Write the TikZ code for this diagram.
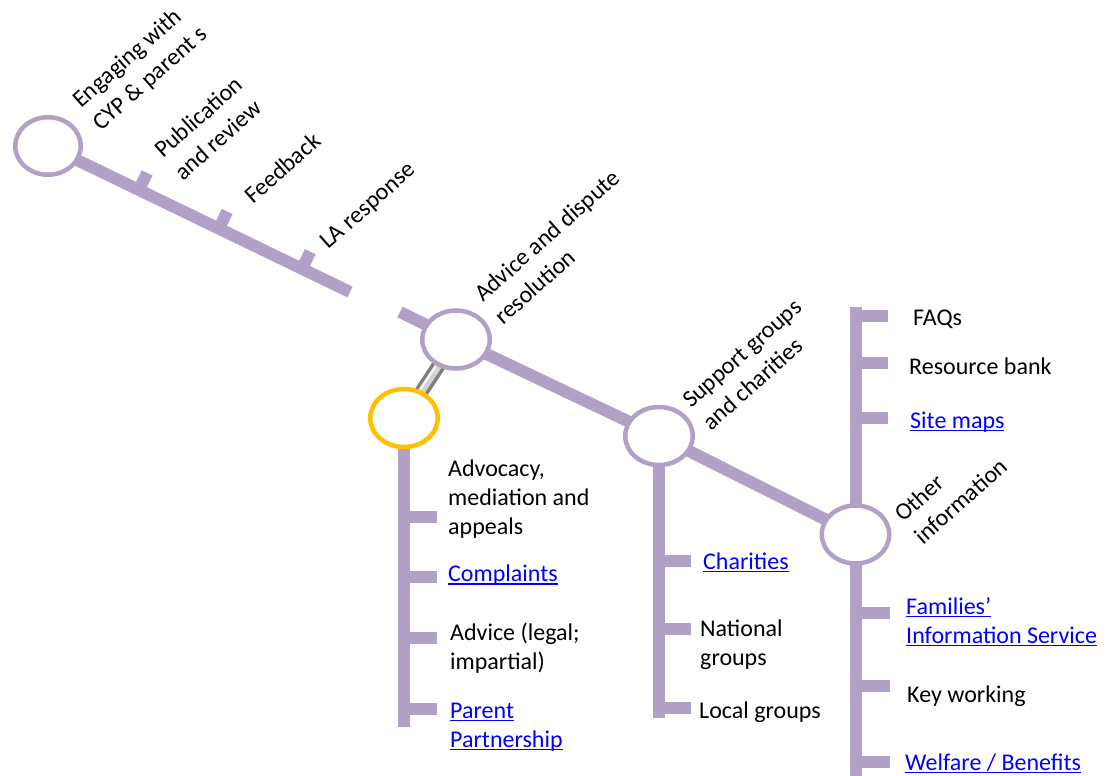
\documentclass[tikz,border=0pt]{standalone}
\usepackage{fontspec}
\setmainfont{Carlito}
\usetikzlibrary{calc,shapes.geometric,backgrounds}
\definecolor{lav}{HTML}{B2A1C7}
\definecolor{gold}{HTML}{FFC000}
\definecolor{linkblue}{HTML}{0000FF}
\definecolor{connedge}{HTML}{7F7F7F}
\newcommand\mlab[1]{\begin{tabular}[t]{@{}l@{}}#1\end{tabular}}
\newcommand\lnk[1]{{\color{linkblue}\setbox0=\hbox{#1}\rlap{\rule[-3pt]{\wd0}{1.3pt}}\box0}}
\begin{document}
\begin{tikzpicture}[x=1pt,y=1pt,
  rail/.style={draw=lav, line width=12pt},
  station/.style={ellipse, draw=lav, line width=4.5pt, fill=white,
    minimum width=67.5pt, minimum height=58pt, inner sep=0pt},
  hub/.style={station, draw=gold},
  lbl/.style={anchor=base west, inner sep=0pt, font=\fontsize{24}{29}\selectfont},
  rlbl/.style={anchor=base west, inner sep=0pt, font=\fontsize{24}{30}\selectfont, rotate=41.5}]
\useasboundingbox (0,0) rectangle (1112,-776);

% stations
\node[station, minimum width=65.5pt, minimum height=57.5pt] (c1) at (48,-146) {};
\node[station] (c2) at (456,-339.5) {};
\node[station] (c3) at (659,-436) {};
\node[station] (c4) at (855.5,-534.5) {};
\node[hub] (cy) at (404,-418) {};

\coordinate (e1) at (350,-292);
\coordinate (s2) at (400,-312);

\begin{scope}[on background layer]
  % diagonal lines
  \draw[rail] (c1.center) -- (e1);
  \foreach \t in {0.301,0.566,0.841}
    \draw[rail] ($(c1.center)!\t!(e1)$) -- ($(c1.center)!\t!(e1)!19pt!90:(e1)$);
  \draw[rail] (s2) -- (c2.center) -- (c3.center) -- (c4.center);
  % connector between c2 and yellow hub
  \draw[connedge, line width=14pt] (c2.center) -- (cy.center);
  \draw[gray!35, line width=7pt] (c2.center) -- (cy.center);
  \draw[gray!10, line width=2.5pt] ($(c2.center)+(-2,1)$) -- ($(cy.center)+(-2,1)$);
  % vertical under yellow hub
  \draw[rail] (cy.center) -- (cy.center |- 0,-727);
  \foreach \y in {517,577,638,709}
    \draw[rail] (cy.center |- 0,-\y) -- (437,-\y);
  % vertical under c3
  \draw[rail] (c3.center) -- (c3.center |- 0,-718);
  \foreach \y in {561,629,708}
    \draw[rail] (c3.center |- 0,-\y) -- (691,-\y);
  % vertical through c4
  \draw[rail] (c4.center |- 0,-307) -- (c4.center |- 0,-790);
  \foreach \y in {316,363,418}
    \draw[rail] (c4.center |- 0,-\y) -- (888,-\y);
  \foreach \y in {613,686,762}
    \draw[rail] (c4.center |- 0,-\y) -- (890,-\y);
\end{scope}

% rotated labels
\node[rlbl] (l1) at (81,-109) {\mlab{Engaging with\\CYP \& parent s}};
\node[rlbl] (l2) at (163,-159) {\mlab{Publication\\and review}};
\node[rlbl] (l3) at (253,-205) {Feedback};
\node[rlbl] (l4) at (328,-250) {LA response};
\node[rlbl] (l5) at (483,-303) {\mlab{Advice and dispute\\resolution}};
\node[rlbl] (l6) at (691,-409) {\mlab{Support groups\\and charities}};
\node[rlbl] (l7) at (903,-523) {\mlab{Other\\information}};

% horizontal labels
\node[lbl] (a1) at (448,-476) {\mlab{Advocacy,\\mediation and\\appeals}};
\node[lbl] (a2) at (448,-581.5) {\lnk{Complaints}};
\node[lbl] (a3) at (450,-640) {\mlab{Advice (legal;\\impartial)}};
\node[lbl] (a4) at (450,-718) {\mlab{\lnk{Parent}\\\lnk{Partnership}}};

\node[lbl] (b1) at (703,-569) {\lnk{Charities}};
\node[lbl] (b2) at (700,-636) {\mlab{National\\groups}};
\node[lbl] (b3) at (699,-718) {Local groups};

\node[lbl] (d1) at (913,-325) {FAQs};
\node[lbl] (d2) at (909,-374) {Resource bank};
\node[lbl] (d3) at (910,-428) {\lnk{Site maps}};
\node[lbl] (d4) at (906,-614) {\mlab{\lnk{Families’}\\\lnk{Information Service}}};
\node[lbl] (d5) at (907,-702) {Key working};
\node[lbl] (d6) at (905,-770) {\lnk{Welfare / Benefits}};
\end{tikzpicture}
\end{document}
